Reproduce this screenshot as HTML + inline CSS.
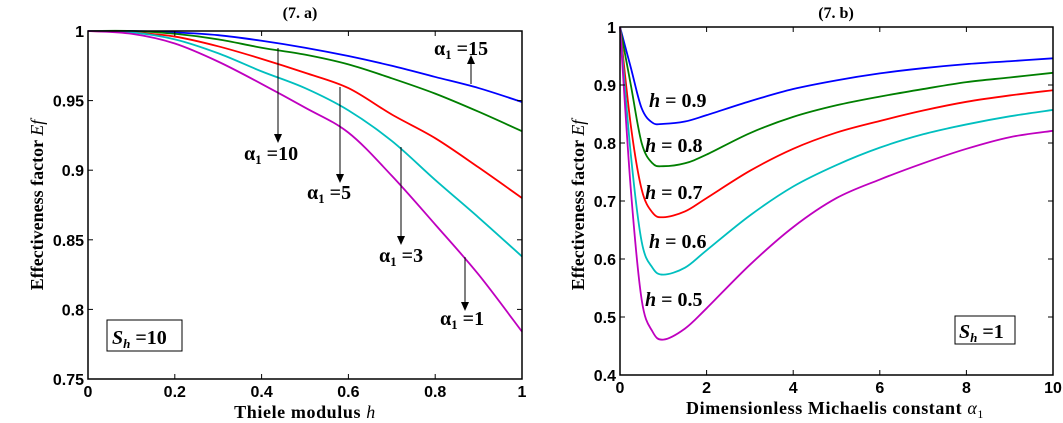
<!DOCTYPE html>
<html><head><meta charset="utf-8"><style>
body{margin:0;background:#fff}
svg{display:block;font-family:"Liberation Serif",serif;font-weight:bold}
.tk{font-family:"Liberation Sans",sans-serif;font-weight:bold}
</style></head><body>
<svg id="c" width="1063" height="423" viewBox="0 0 1063 423">
<text x="300" y="18" font-size="16" text-anchor="middle">(7. a)</text>
<text x="836" y="18" font-size="16" text-anchor="middle">(7. b)</text>
<text x="305" y="418" font-size="18" text-anchor="middle" letter-spacing="0.6">Thiele modulus <tspan font-style="italic" font-weight="normal">h</tspan></text>
<text x="835" y="414" font-size="18" text-anchor="middle" letter-spacing="0.6">Dimensionless Michaelis constant  <tspan font-style="italic" font-weight="normal">α</tspan><tspan font-size="12" font-weight="normal" dy="4">1</tspan></text>
<text transform="translate(43,205) rotate(-90)" font-size="18" text-anchor="middle">Effectiveness factor <tspan font-style="italic" font-weight="normal">Ef</tspan></text>
<text transform="translate(584,205) rotate(-90)" font-size="18" text-anchor="middle">Effectiveness factor <tspan font-style="italic" font-weight="normal">Ef</tspan></text>
<g id="ga"></g><g id="gb"></g>
<g font-size="20">
<text x="434" y="55">α<tspan font-size="13" dy="4">1</tspan><tspan dy="-4"> =15</tspan></text>
<text x="244" y="160">α<tspan font-size="13" dy="4">1</tspan><tspan dy="-4"> =10</tspan></text>
<text x="307" y="199">α<tspan font-size="13" dy="4">1</tspan><tspan dy="-4"> =5</tspan></text>
<text x="379" y="262">α<tspan font-size="13" dy="4">1</tspan><tspan dy="-4"> =3</tspan></text>
<text x="440" y="325">α<tspan font-size="13" dy="4">1</tspan><tspan dy="-4"> =1</tspan></text>
<g stroke="#000" stroke-width="1">
<line x1="471" y1="84" x2="471" y2="62"/><line x1="278" y1="48" x2="278" y2="134"/>
<line x1="340" y1="87" x2="340" y2="174"/><line x1="401" y1="147" x2="401" y2="236"/>
<line x1="465" y1="257" x2="465" y2="302"/></g>
<g fill="#000"><path d="M467,64 L475,64 L471,55Z"/><path d="M274,134 L282,134 L278,143Z"/>
<path d="M336,174 L344,174 L340,183Z"/><path d="M397,236 L405,236 L401,245Z"/>
<path d="M461,302 L469,302 L465,311Z"/></g>
<rect x="107" y="320" width="75" height="31" fill="#fff" stroke="#000"/>
<text x="112" y="344" font-style="italic">S<tspan font-size="13" dy="4">h</tspan><tspan dy="-4" font-style="normal"> =10</tspan></text>
</g>
<g font-size="20">
<text x="649" y="107"><tspan font-style="italic">h</tspan> = 0.9</text>
<text x="645" y="152"><tspan font-style="italic">h</tspan> = 0.8</text>
<text x="645" y="199"><tspan font-style="italic">h</tspan> = 0.7</text>
<text x="649" y="248"><tspan font-style="italic">h</tspan> = 0.6</text>
<text x="645" y="306"><tspan font-style="italic">h</tspan> = 0.5</text>
<rect x="955" y="316" width="60" height="28" fill="#fff" stroke="#000"/>
<text x="959" y="338" font-style="italic">S<tspan font-size="13" dy="4">h</tspan><tspan dy="-4" font-style="normal"> =1</tspan></text>
</g>
</svg>
<script>
const hA=[0,0.1,0.2,0.3,0.4,0.5,0.6,0.7,0.8,0.9,1];
const a15=[1,1,.999,.997,.993,.988,.982,.975,.967,.959,.949];
const a10=[1,1,.998,.994,.988,.983,.976,.966,.955,.942,.928];
const a5=[1,.999,.996,.989,.980,.970,.959,.940,.923,.902,.880];
const a3=[1,.999,.994,.984,.971,.959,.943,.921,.893,.866,.838];
const a1=[1,.998,.991,.978,.962,.945,.927,.896,.861,.825,.784];
const xTicksA=[0,0.2,0.4,0.6,0.8,1];
const yTicksA=[0.75,0.8,0.85,0.9,0.95,1];
const alB=[0,0.25,0.5,0.75,1,1.5,2,3,4,5,6,7,8,9,10];
const h9=[1,.93,.86,.835,.833,.837,.848,.872,.893,.908,.92,.929,.936,.941,.946];
const h8=[1,.9,.80,.765,.76,.765,.78,.817,.845,.865,.88,.893,.905,.913,.921];
const h7=[1,.83,.72,.68,.672,.682,.705,.752,.79,.818,.838,.856,.871,.882,.891];
const h6=[1,.78,.63,.585,.573,.585,.615,.675,.725,.762,.792,.815,.832,.846,.857];
const h5=[1,.72,.53,.475,.461,.48,.515,.59,.655,.705,.737,.765,.79,.81,.821];
const xTicksB=[0,2,4,6,8,10];
const yTicksB=[0.4,0.5,0.6,0.7,0.8,0.9,1];
const NS='http://www.w3.org/2000/svg';
function mk(t,a,p){const e=document.createElementNS(NS,t);for(const k in a)e.setAttribute(k,a[k]);p.appendChild(e);return e;}
function smooth(pts){let d='M'+pts[0][0]+','+pts[0][1];for(let i=0;i<pts.length-1;i++){const p0=pts[i-1]||pts[i],p1=pts[i],p2=pts[i+1],p3=pts[i+2]||p2;
d+=' C'+(p1[0]+(p2[0]-p0[0])/6)+','+(p1[1]+(p2[1]-p0[1])/6)+' '+(p2[0]-(p3[0]-p1[0])/6)+','+(p2[1]-(p3[1]-p1[1])/6)+' '+p2[0]+','+p2[1];}return d;}
function plot(g,L,R,T,B,xmin,xmax,ymin,ymax,xt,yt,xs,series,name){
 const sx=v=>L+(v-xmin)/(xmax-xmin)*(R-L), sy=v=>B-(v-ymin)/(ymax-ymin)*(B-T);
 series.forEach(([ys,col,nm])=>{const p=mk('path',{d:smooth(xs.map((x,i)=>[sx(x),sy(ys[i])])),fill:'none',stroke:col,'stroke-width':1.8},g);
 
 });
 const f=mk('rect',{x:L,y:T,width:R-L,height:B-T,fill:'none',stroke:'#000','stroke-width':1.5},g);
 
 
 xt.forEach(v=>{const x=sx(v);mk('line',{x1:x,x2:x,y1:B,y2:B-5,stroke:'#000'},g);mk('line',{x1:x,x2:x,y1:T,y2:T+5,stroke:'#000'},g);
 const t=mk('text',{x:x,y:B+18,'font-size':16,'text-anchor':'middle','class':'tk'},g);t.textContent=String(v);
 
 });
 yt.forEach(v=>{const y=sy(v);mk('line',{x1:L,x2:L+5,y1:y,y2:y,stroke:'#000'},g);mk('line',{x1:R,x2:R-5,y1:y,y2:y,stroke:'#000'},g);
 const t=mk('text',{x:L-4,y:y+6,'font-size':16,'text-anchor':'end','class':'tk'},g);t.textContent=String(v);
 
 });
}
plot(document.getElementById('ga'),88,522,31,379,0,1,0.75,1,xTicksA,yTicksA,hA,
 [[a15,'#0000ff','line-alpha-15'],[a10,'#007f00','line-alpha-10'],[a5,'#ff0000','line-alpha-5'],[a3,'#00bfbf','line-alpha-3'],[a1,'#bf00bf','line-alpha-1']],'a');
plot(document.getElementById('gb'),620,1053,27,375,0,10,0.4,1,xTicksB,yTicksB,alB,
 [[h9,'#0000ff','line-h-0.9'],[h8,'#007f00','line-h-0.8'],[h7,'#ff0000','line-h-0.7'],[h6,'#00bfbf','line-h-0.6'],[h5,'#bf00bf','line-h-0.5']],'b');
</script>
</body></html>
